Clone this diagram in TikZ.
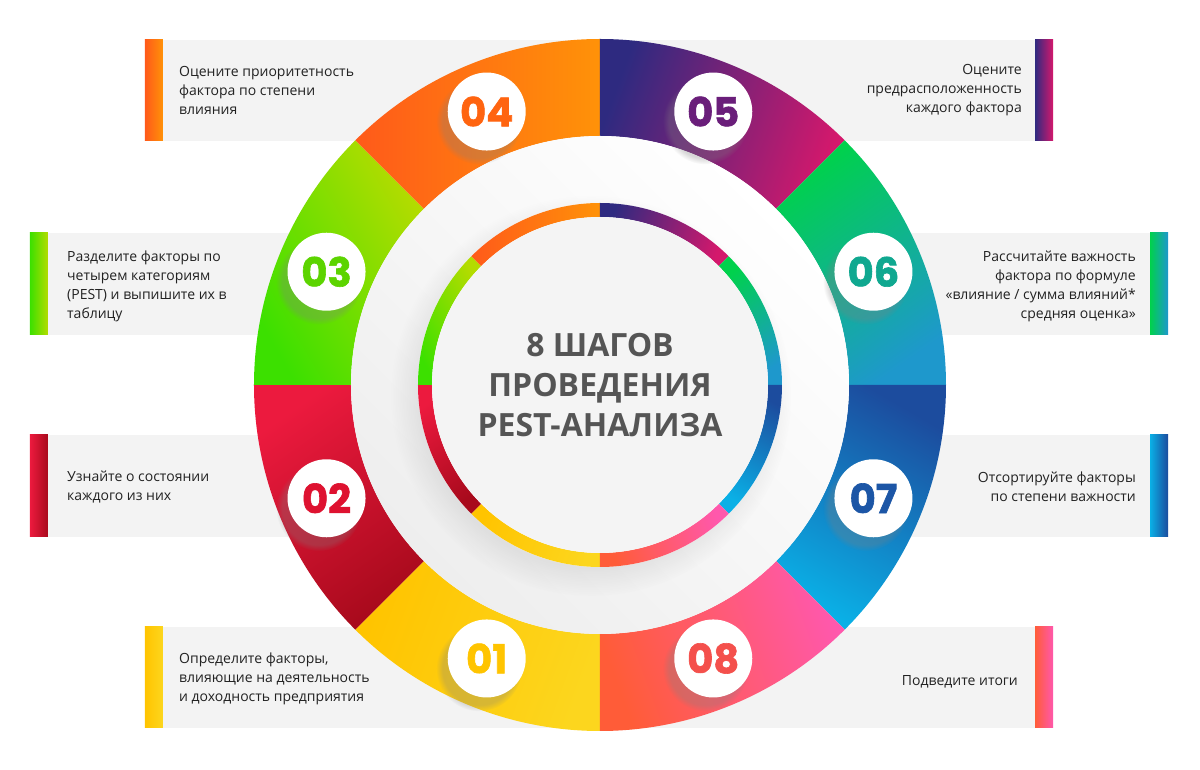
\documentclass[tikz,border=0pt]{standalone}
\usepackage{fontspec}
\setmainfont{Open Sans}
\newfontfamily\numfont[BoldFeatures={FakeBold=1.5}]{Poppins}
\usetikzlibrary{shadows, calc}

\definecolor{yeA}{HTML}{FFC400}\definecolor{yeB}{HTML}{FCD61E}
\definecolor{reA}{HTML}{EC1A3E}\definecolor{reB}{HTML}{A80A1C}
\definecolor{grA}{HTML}{3CE000}\definecolor{grB}{HTML}{B4DC00}
\definecolor{orA}{HTML}{FF5A1A}\definecolor{orB}{HTML}{FF9208}
\definecolor{puA}{HTML}{2E2A80}\definecolor{puB}{HTML}{D4186C}
\definecolor{gtA}{HTML}{00D14C}\definecolor{gtB}{HTML}{1E98CC}
\definecolor{blA}{HTML}{0AB0E6}\definecolor{blB}{HTML}{1C4C9E}
\definecolor{coA}{HTML}{FF5C38}\definecolor{coB}{HTML}{FF58AC}
% digit colours
\definecolor{num1}{HTML}{FFC400}\definecolor{num2}{HTML}{DE1230}
\definecolor{num3}{HTML}{5CD400}\definecolor{num4}{HTML}{FF6410}
\definecolor{num5}{HTML}{6A1E7A}\definecolor{num6}{HTML}{10A890}
\definecolor{num7}{HTML}{1C56A6}\definecolor{num8}{HTML}{F4504C}
\definecolor{panelgray}{HTML}{F3F3F3}
\definecolor{centergray}{HTML}{F4F4F4}
\definecolor{ringshade}{HTML}{EEEEEE}
\definecolor{titlegray}{HTML}{555555}
\definecolor{textgray}{HTML}{222222}

\begin{document}
\begin{tikzpicture}[x=1pt, y=1pt,
  panel/.style={fill=panelgray},
  txt/.style={font=\fontsize{14}{19}\selectfont, text=textgray, inner sep=0pt},
  numdot/.style={circle, fill=white, minimum size=78pt, inner sep=0pt,
    circular drop shadow={shadow xshift=-7pt, shadow yshift=-9pt, opacity=.3},
    font=\numfont\bfseries\fontsize{40}{40}\selectfont},
]
\useasboundingbox[fill=white] (-600,-385) rectangle (600,385);

% grey panels and their colour strips
\fill[panel] (-455,244) rectangle (0,345);
\fill[left color=orA, right color=orB] (-455,244) rectangle (-437,345);
\fill[panel] (0,244) rectangle (453,345);
\fill[left color=puA, right color=puB] (435,244) rectangle (453,345);
\fill[panel] (-570,50) rectangle (0,152);
\fill[left color=grA, right color=grB] (-570,50) rectangle (-552,152);
\fill[panel] (0,50) rectangle (568,152);
\fill[left color=gtA, right color=gtB] (550,50) rectangle (568,152);
\fill[panel] (-570,-152) rectangle (0,-50);
\fill[left color=reA, right color=reB] (-570,-152) rectangle (-552,-50);
\fill[panel] (0,-152) rectangle (568,-50);
\fill[left color=blA, right color=blB] (550,-152) rectangle (568,-50);
\fill[panel] (-455,-343) rectangle (0,-242);
\fill[left color=yeA, right color=yeB] (-455,-343) rectangle (-437,-242);
\fill[panel] (0,-343) rectangle (453,-242);
\fill[left color=coA, right color=coB] (435,-343) rectangle (453,-242);

% outer ring
\foreach \s/\ca/\cb/\ph in {-135/yeA/yeB/-20, 180/reA/reB/-55, 135/grA/grB/30, 90/orA/orB/0,
    45/puA/puB/-20, 0/gtA/gtB/-55, -45/blA/blB/60, -90/coA/coB/20}{
  \pgfmathsetmacro\segend{\s+45}
  \pgfmathsetmacro\shang{\ph-90}
  \shade[bottom color=\ca, top color=\cb, shading angle=\shang]
    (\s:346) arc[start angle=\s, end angle=\segend, radius=346]
    -- (\segend:249) arc[start angle=\segend, end angle=\s, radius=249] -- cycle;
}

% white band
\shade[top color=white, bottom color=ringshade, shading angle=-45] (0,0) circle[radius=249];
\path[fill=white, circular drop shadow={shadow xshift=-8pt, shadow yshift=-10pt, opacity=.15}]
  (0,0) circle[radius=182];

% thin inner ring
\foreach \s/\ca/\cb/\ph in {-135/yeA/yeB/-20, 180/reA/reB/-55, 135/grA/grB/30, 90/orA/orB/0,
    45/puA/puB/-20, 0/gtA/gtB/-55, -45/blA/blB/60, -90/coA/coB/20}{
  \pgfmathsetmacro\segend{\s+45}
  \pgfmathsetmacro\shang{\ph-90}
  \shade[bottom color=\ca, top color=\cb, shading angle=\shang]
    (\s:182) arc[start angle=\s, end angle=\segend, radius=182]
    -- (\segend:168) arc[start angle=\segend, end angle=\s, radius=168] -- cycle;
}
\fill[centergray] (0,0) circle[radius=168];

\node[font=\bfseries\fontsize{32}{40}\selectfont, text=titlegray, align=center] (title) at (0,0)
  {8 ШАГОВ\\ПРОВЕДЕНИЯ\\PEST-АНАЛИЗА};

% step numbers
\foreach \i/\a in {1/-112.5, 2/202.5, 3/157.5, 4/112.5, 5/67.5, 6/22.5, 7/-22.5, 8/-67.5}
  \node[numdot, text=num\i] (n\i) at (\a:296) {0\i};

% step texts
\node[txt, anchor=west, align=left] (t4) at (-421,295)
  {Оцените приоритетность\\фактора по степени\\влияния};
\node[txt, anchor=east, align=right] (t5) at (422,295)
  {Оцените\\предрасположенность\\каждого фактора};
\node[txt, anchor=west, align=left] (t3) at (-533,99)
  {Разделите факторы по\\четырем категориям\\(PEST) и выпишите их в\\таблицу};
\node[txt, anchor=east, align=right] (t6) at (536,99)
  {Рассчитайте важность\\фактора по формуле\\«влияние / сумма влияний*\\средняя оценка»};
\node[txt, anchor=west, align=left] (t2) at (-533,-102)
  {Узнайте о состоянии\\каждого из них};
\node[txt, anchor=east, align=right] (t7) at (536,-102)
  {Отсортируйте факторы\\по степени важности};
\node[txt, anchor=west, align=left] (t1) at (-421,-294)
  {Определите факторы,\\влияющие на деятельность\\и доходность предприятия};
\node[txt, anchor=east, align=right] (t8) at (418,-297)
  {Подведите итоги};
\end{tikzpicture}
\end{document}
